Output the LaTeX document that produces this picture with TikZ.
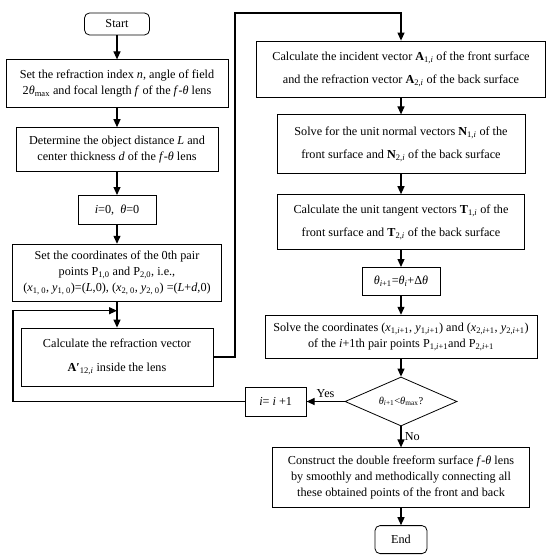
\documentclass[tikz,border=0pt]{standalone}
\usepackage{fontspec}
\setmainfont{Liberation Serif}
\usetikzlibrary{shapes,arrows.meta,positioning,calc}
\newcommand{\sbt}[1]{\textsubscript{#1}}

\begin{document}
\begin{tikzpicture}[
    x=1pt, y=-1pt,
    node distance=19pt,
    block/.style={rectangle, draw, line width=0.8pt, align=center, inner sep=1pt, font=\fontsize{12.2}{16}\selectfont},
    term/.style={block, rounded corners=5pt},
    test/.style={diamond, draw, line width=0.8pt, aspect=2.3, minimum width=112pt, minimum height=49pt, inner sep=0pt, font=\fontsize{10.5}{12}\selectfont},
    arrow/.style={-{Triangle[length=8pt,width=7pt]}, line width=1.2pt},
    note/.style={font=\fontsize{12.2}{14}\selectfont}
]
    \useasboundingbox (0,0) rectangle (550,556);

    % Left path
    \node[term, minimum width=65pt, minimum height=22pt] (start) at (117,24) {Start};
    \node[block, below=24pt of start, minimum width=222pt, minimum height=48pt] (setn) {Set the refraction index \textit{n}, angle of field\\2\textit{θ}\sbt{max} and focal length \textit{f} of the \textit{f}-\textit{θ} lens};
    \node[block, below=19pt of setn, minimum width=202pt, minimum height=44pt] (dist) {Determine the object distance \textit{L} and\\center thickness \textit{d} of the \textit{f}-\textit{θ} lens};
    \node[block, below=23pt of dist, minimum width=78pt, minimum height=29pt] (init) {\textit{i}=0,\ \ \textit{θ}=0};
    \node[block, below=19pt of init, minimum width=209pt, minimum height=57pt] (pts) {Set the coordinates of the 0th pair\\points P\sbt{1,0} and P\sbt{2,0}, i.e.,\\(\textit{x}\sbt{1, 0}, \textit{y}\sbt{1, 0})=(\textit{L},0), (\textit{x}\sbt{2, 0}, \textit{y}\sbt{2, 0}) =(\textit{L}+\textit{d},0)};
    \node[block, below=26pt of pts, minimum width=192pt, minimum height=58pt] (refr) {Calculate the refraction vector\\[8pt]\textbf{A′}\sbt{12,\textit{i}} inside the lens};

    \draw[arrow] (start) -- (setn);
    \draw[arrow] (setn) -- (dist);
    \draw[arrow] (dist) -- (init);
    \draw[arrow] (init) -- (pts);
    \draw[arrow] (pts) -- (refr);

    % Right path
    \node[block, minimum width=289pt, minimum height=56pt] (incv) at (401,69) {Calculate the incident vector \textbf{A}\sbt{1,\textit{i}} of the front surface\\[7pt]and the refraction vector \textbf{A}\sbt{2,\textit{i}} of the back surface};
    \node[block, below=17pt of incv, minimum width=248pt, minimum height=59pt] (normv) {Solve for the unit normal vectors \textbf{N}\sbt{1,\textit{i}} of the\\[7pt]front surface and \textbf{N}\sbt{2,\textit{i}} of the back surface};
    \node[block, below=20pt of normv, minimum width=247pt, minimum height=55pt] (tanv) {Calculate the unit tangent vectors \textbf{T}\sbt{1,\textit{i}} of the\\[7pt]front surface and \textbf{T}\sbt{2,\textit{i}} of the back surface};
    \node[block, below=17pt of tanv, minimum width=78pt, minimum height=28pt] (dtheta) {\textit{θ}\sbt{\textit{i}+1}=\textit{θ}\sbt{\textit{i}}+Δ\textit{θ}};
    \node[block, below=19pt of dtheta, minimum width=272pt, minimum height=43pt] (newpts) {Solve the coordinates (\textit{x}\sbt{1,\textit{i}+1}, \textit{y}\sbt{1,\textit{i}+1}) and (\textit{x}\sbt{2,\textit{i}+1}, \textit{y}\sbt{2,\textit{i}+1})\\of the \textit{i}+1th pair points P\sbt{1,\textit{i}+1}and P\sbt{2,\textit{i}+1}};
    \node[test, below=18pt of newpts] (check) {\textit{θ}\sbt{\textit{i}+1}<\textit{θ}\sbt{max}?};
    \node[block, below=21pt of check, minimum width=257pt, minimum height=60pt] (lens) {Construct the double freeform surface \textit{f}-\textit{θ} lens\\by smoothly and methodically connecting all\\these obtained points of the front and back};
    \node[term, below=17pt of lens, minimum width=52pt, minimum height=28pt] (end) {End};
    \node[block, left=38pt of check, minimum width=61pt, minimum height=29pt] (next) {\textit{i}= \textit{i} +1};

    \draw[arrow] (incv) -- (normv);
    \draw[arrow] (normv) -- (tanv);
    \draw[arrow] (tanv) -- (dtheta);
    \draw[arrow] (dtheta) -- (newpts);
    \draw[arrow] (newpts) -- (check);
    \draw[arrow] (check) -- node[right, note] {No} (lens);
    \draw[arrow] (lens) -- (end);
    \draw[arrow] (check) -- node[above, note] {Yes} (next);

    % Loop back and jump across
    \coordinate (loopx) at (13,0);
    \coordinate (join) at ($(pts.south)!0.35!(refr.north)$);
    \coordinate (bridge) at (235,13);
    \draw[arrow] (next.west) -- (next.west -| loopx) |- (join);
    \draw[arrow] (refr.east) -| (bridge) -| (incv.north);
\end{tikzpicture}
\end{document}
